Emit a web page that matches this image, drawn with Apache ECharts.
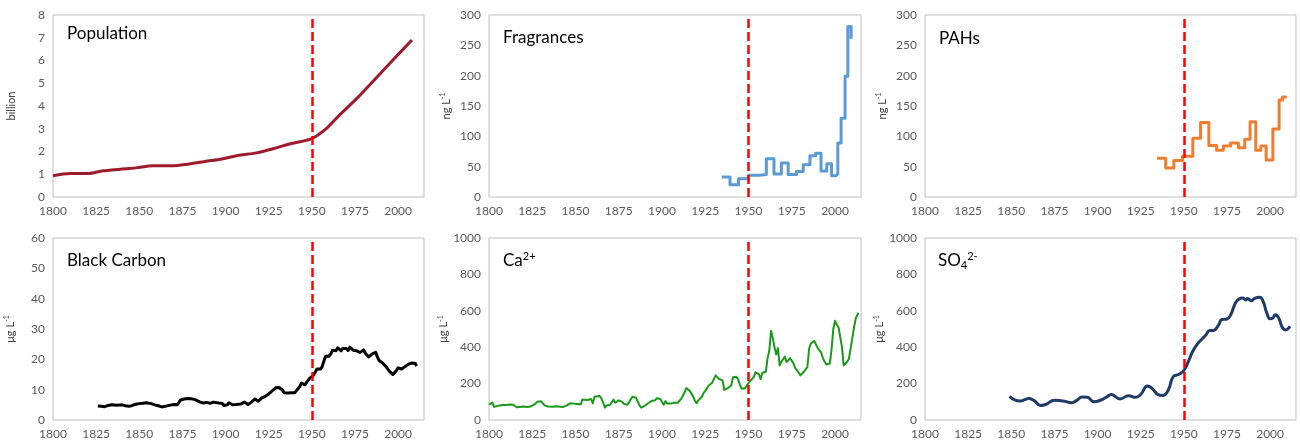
<!DOCTYPE html>
<html>
<head>
<meta charset="utf-8">
<script src="https://cdn.jsdelivr.net/npm/echarts@6/dist/echarts.min.js"></script>
<style>
  html, body { margin: 0; padding: 0; background: #fff; }
  #main { width: 1300px; height: 443px; }
</style>
</head>
<body>
<div id="main"></div>
<script>
// x axis (years) shared by all panels
var xTicks = [1800, 1825, 1850, 1875, 1900, 1925, 1950, 1975, 2000];
var markYear = 1950;

// Population (billion)
var popYears = [1800, 1810, 1820, 1829, 1839, 1848, 1858, 1869, 1878, 1888, 1898, 1907, 1918, 1928, 1938, 1950, 1958, 1966, 1977, 1987, 1997, 2008];
var popValues = [0.93, 1.03, 1.03, 1.15, 1.22, 1.28, 1.37, 1.37, 1.44, 1.56, 1.67, 1.82, 1.94, 2.13, 2.35, 2.57, 2.98, 3.6, 4.4, 5.21, 6.02, 6.9];

// Fragrances (ng L-1), step changes
var fragYears = [1934.5, 1939.3, 1944.2, 1950, 1956.4, 1960.3, 1964.7, 1969, 1972.9, 1977.7, 1981.6, 1985.5, 1988.8, 1991.9, 1995.2, 1998, 2000.4, 2001.6, 2003.5, 2005.8, 2007.4, 2008.3, 2009.3];
var fragValues = [33, 20, 30, 36, 37, 63, 38, 56, 37, 42, 53, 68, 72, 43, 55, 35, 38, 89, 130, 199, 281, 281, 261];

// PAHs (ng L-1), step changes
var pahYears = [1934.5, 1939.5, 1944.2, 1949.2, 1955.2, 1959.7, 1964.5, 1969, 1972.9, 1977.1, 1981.6, 1985.3, 1988.4, 1991.7, 1994.6, 1997.7, 2001.6, 2005.2, 2007.2, 2009.7];
var pahValues = [64, 48, 60, 67, 97, 123, 85, 77, 84, 89, 81, 95, 124, 77, 84, 61, 112, 160, 165, 165];

// Black carbon (ug L-1)
var bcYears = [1826, 1827, 1828, 1829, 1830, 1832, 1833, 1834, 1835, 1837, 1838, 1840, 1842, 1844, 1845, 1846, 1848, 1850, 1852, 1854, 1855, 1857, 1859, 1861, 1863, 1864, 1865, 1866, 1868, 1870, 1872, 1873, 1874, 1875, 1876, 1877, 1878, 1880, 1882, 1883, 1885, 1886, 1887, 1889, 1890, 1891, 1893, 1894, 1896, 1897, 1898, 1899, 1900, 1901, 1902, 1903, 1904, 1906, 1907, 1909, 1910, 1911, 1912, 1913, 1914, 1915, 1916, 1917, 1918, 1919, 1920, 1921, 1922, 1923, 1924, 1925, 1926, 1927, 1928, 1929, 1930, 1931, 1932, 1933, 1934, 1935, 1936, 1937, 1938, 1939, 1940, 1941, 1942, 1943, 1944, 1945, 1946, 1947, 1948, 1949, 1950, 1951, 1952, 1953, 1954, 1955, 1956, 1957, 1958, 1959, 1960, 1961, 1962, 1963, 1964, 1965, 1966, 1967, 1968, 1969, 1970, 1971, 1972, 1973, 1974, 1975, 1976, 1977, 1978, 1979, 1980, 1981, 1982, 1983, 1984, 1985, 1986, 1987, 1988, 1989, 1990, 1991, 1992, 1993, 1994, 1995, 1996, 1997, 1998, 1999, 2000, 2001, 2002, 2003, 2004, 2005, 2006, 2007, 2008, 2009, 2010, 2010.7];
var bcValues = [4.6, 4.8, 4.5, 4.7, 4.4, 4.8, 4.6, 5.0, 4.7, 4.9, 4.6, 5.0, 4.7, 4.5, 4.4, 4.8, 5.2, 5.4, 5.5, 5.7, 5.5, 5.4, 5.0, 4.7, 4.3, 4.1, 4.5, 5.0, 4.9, 5.1, 5.0, 5.3, 6.6, 6.5, 6.9, 6.6, 7.1, 7.0, 6.8, 6.2, 6.0, 6.3, 5.6, 5.8, 6.1, 5.5, 5.9, 5.4, 5.6, 5.2, 5.5, 4.8, 4.6, 5.0, 5.7, 5.5, 5.0, 5.1, 4.9, 5.3, 5.6, 5.9, 5.4, 5.1, 4.9, 5.9, 6.4, 6.9, 6.6, 6.2, 6.8, 7.3, 7.6, 7.8, 8.1, 8.6, 9.2, 9.6, 10.1, 10.6, 10.8, 10.7, 10.4, 9.8, 9.0, 8.6, 8.9, 8.7, 9.0, 8.7, 9.0, 9.6, 10.3, 11.0, 12.2, 12.0, 11.6, 12.0, 13.2, 13.9, 14.2, 14.8, 15.3, 16.8, 17.0, 16.8, 17.6, 19.5, 21.0, 21.2, 21.0, 21.8, 23.0, 23.3, 22.8, 23.8, 23.4, 22.8, 23.6, 24.2, 23.6, 22.9, 24.0, 23.5, 23.0, 23.1, 22.8, 22.6, 22.3, 22.9, 23.1, 22.0, 21.4, 20.8, 20.7, 21.8, 22.2, 22.3, 20.8, 19.6, 19.0, 18.8, 18.5, 17.6, 17.3, 16.0, 15.4, 15.0, 15.6, 16.3, 17.2, 17.0, 16.8, 17.2, 17.6, 17.9, 18.4, 18.7, 18.8, 18.5, 18.6, 17.8];

// Ca2+ (ug L-1)
var caYears = [1800, 1801, 1802, 1803, 1804, 1806, 1808, 1810, 1812, 1814, 1815, 1816, 1818, 1820, 1821, 1822, 1823, 1824, 1826, 1828, 1829, 1830, 1831, 1832, 1834, 1835, 1837, 1839, 1841, 1843, 1845, 1847, 1848, 1849, 1851, 1853, 1854, 1855, 1857, 1858, 1859, 1860, 1861, 1862, 1864, 1865, 1866, 1867, 1868, 1870, 1871, 1872, 1873, 1874, 1875, 1876, 1877, 1878, 1879, 1880, 1881, 1882, 1883, 1884, 1885, 1886, 1887, 1888, 1889, 1890, 1892, 1894, 1895, 1896, 1897, 1898, 1899, 1900, 1901, 1902, 1903, 1904, 1905, 1906, 1907, 1908, 1909, 1910, 1911, 1912, 1913, 1914, 1915, 1916, 1917, 1918, 1919, 1920, 1921, 1922, 1923, 1924, 1925, 1926, 1927, 1928, 1929, 1930, 1931, 1932, 1933, 1934, 1935, 1936, 1937, 1938, 1939, 1940, 1941, 1942, 1943, 1944, 1945, 1946, 1947, 1948, 1949, 1950, 1951, 1952, 1953, 1954, 1955, 1956, 1957, 1958, 1959, 1960, 1961, 1962, 1963, 1964, 1965, 1966, 1967, 1968, 1969, 1970, 1971, 1972, 1973, 1974, 1975, 1976, 1977, 1978, 1979, 1980, 1981, 1982, 1983, 1984, 1985, 1986, 1987, 1988, 1989, 1990, 1991, 1992, 1993, 1994, 1995, 1996, 1997, 1998, 1999, 2000, 2001, 2002, 2003, 2004, 2005, 2006, 2007, 2008, 2009, 2010, 2011, 2012, 2013.5];
var caValues = [85, 92, 96, 72, 74, 80, 83, 82, 85, 84, 80, 70, 72, 74, 78, 72, 78, 74, 84, 100, 105, 103, 98, 82, 74, 70, 73, 76, 73, 72, 80, 92, 96, 90, 88, 86, 112, 108, 110, 105, 115, 92, 128, 135, 132, 118, 95, 68, 80, 84, 86, 112, 95, 100, 108, 110, 100, 88, 95, 84, 98, 115, 128, 138, 122, 100, 80, 68, 70, 78, 92, 105, 112, 108, 120, 110, 115, 112, 84, 104, 90, 82, 90, 96, 95, 88, 95, 104, 115, 132, 150, 175, 172, 160, 158, 130, 105, 92, 108, 100, 128, 148, 160, 175, 190, 200, 205, 210, 245, 235, 225, 228, 218, 165, 172, 175, 178, 190, 235, 230, 238, 222, 195, 172, 165, 175, 190, 180, 215, 225, 235, 262, 265, 252, 225, 260, 268, 265, 340, 380, 490, 450, 400, 360, 395, 300, 320, 330, 348, 318, 325, 340, 338, 310, 285, 290, 260, 245, 240, 265, 262, 290, 390, 420, 425, 435, 425, 395, 385, 370, 340, 320, 305, 300, 310, 390, 500, 545, 525, 510, 515, 400, 300, 290, 320, 335, 345, 450, 510, 560, 590];

// SO4 2- (ug L-1)
var so4Years = [1849, 1852, 1855, 1858, 1860, 1863, 1867, 1870, 1875, 1880, 1885, 1888, 1891, 1894, 1898, 1902, 1905, 1908, 1913, 1918, 1922, 1925, 1929, 1932, 1935, 1938, 1941, 1944, 1947, 1950, 1953, 1955, 1958, 1960, 1963, 1965, 1967, 1970, 1972, 1975, 1977, 1980, 1982, 1984, 1986, 1987, 1989, 1991, 1994, 1996, 1998, 2000, 2001.5, 2003, 2005, 2007, 2009, 2011.5];
var so4Values = [130, 110, 104, 112, 118, 108, 80, 85, 108, 105, 95, 108, 126, 125, 100, 110, 125, 140, 116, 133, 125, 140, 187, 170, 140, 135, 165, 240, 250, 272, 330, 375, 420, 440, 470, 492, 492, 520, 552, 555, 575, 645, 665, 670, 660, 668, 655, 668, 675, 650, 590, 557, 560, 578, 560, 510, 495, 515];

var titles = ['{n|Population}', '{n|Fragrances}', '{n|PAHs}', '{n|Black Carbon}', '{n|Ca}{p|2+}', '{n|SO}{b|4}{p|2-}'];
var yNames = ['billion', '{a|ng L}{s|-1}', '{a|ng L}{s|-1}', '{a|\u03bcg L}{s|-1}', '{a|\u03bcg L}{s|-1}', '{a|\u03bcg L}{s|-1}'];
var yMax = [8, 300, 300, 60, 1000, 1000];
var yStep = [1, 50, 50, 10, 200, 200];

function zip(xs, ys) {
  return xs.map(function (x, i) { return [x, ys[i]]; });
}

var font = 'Lato, "Open Sans", sans-serif';
var grids = [
  { left: 53, top: 15, width: 371, height: 182 },
  { left: 489, top: 15, width: 372, height: 182 },
  { left: 925, top: 15, width: 371, height: 182 },
  { left: 53, top: 238, width: 371, height: 182 },
  { left: 489, top: 238, width: 372, height: 182 },
  { left: 925, top: 238, width: 371, height: 182 }
];
var titlePos = [[67, 24], [503, 28], [939, 29], [67, 251], [503, 251], [938, 251]];

var seriesData = [
  zip(popYears, popValues),
  zip(fragYears, fragValues),
  zip(pahYears, pahValues),
  zip(bcYears, bcValues),
  zip(caYears, caValues),
  zip(so4Years, so4Values)
];
var colors = ['#9E1B2E', '#5B9BD5', '#ED7D31', '#000000', '#1A9A1A', '#1F3A68'];
var widths = [3, 3, 3, 3, 2, 3];
var steps = [false, 'end', 'end', false, false, false];
var smooths = [0.3, false, false, false, false, 0.5];

var plain = function (v) { return String(v); };

var option = {
  animation: false,
  title: [],
  grid: [],
  xAxis: [],
  yAxis: [],
  series: []
};

for (var i = 0; i < 6; i++) {
  option.grid.push(Object.assign({
    show: true,
    borderColor: '#BFBFBF',
    borderWidth: 1,
    backgroundColor: 'transparent'
  }, grids[i]));

  option.title.push({
    text: titles[i],
    left: titlePos[i][0],
    top: titlePos[i][1],
    padding: 0,
    textStyle: {
      fontWeight: 'normal',
      rich: {
        n: { fontSize: 17, fontFamily: font, fontWeight: 'normal', color: '#000', lineHeight: 20 },
        p: { fontSize: 11, fontFamily: font, fontWeight: 'normal', color: '#000', lineHeight: 10, verticalAlign: 'top' },
        b: { fontSize: 11, fontFamily: font, fontWeight: 'normal', color: '#000', lineHeight: 10, verticalAlign: 'bottom' }
      }
    }
  });

  option.xAxis.push({
    type: 'value',
    gridIndex: i,
    min: xTicks[0],
    max: 2015,
    interval: xTicks[1] - xTicks[0],
    axisLine: { show: false },
    axisTick: { show: false },
    splitLine: { show: false },
    axisLabel: {
      showMaxLabel: false,
      margin: 8,
      color: '#595959',
      fontSize: 12,
      fontFamily: font,
      formatter: plain
    }
  });

  option.yAxis.push({
    type: 'value',
    gridIndex: i,
    min: 0,
    max: yMax[i],
    interval: yStep[i],
    name: yNames[i],
    nameLocation: 'middle',
    nameRotate: 90,
    nameGap: 36,
    nameTextStyle: {
      color: '#404040',
      fontSize: 11,
      fontFamily: font,
      rich: {
        a: { fontSize: 11, fontFamily: font, color: '#404040', lineHeight: 14 },
        s: { fontSize: 7, fontFamily: font, color: '#404040', lineHeight: 8, verticalAlign: 'top' }
      }
    },
    axisLine: { show: false },
    axisTick: { show: false },
    splitLine: { show: false },
    axisLabel: {
      margin: 8,
      color: '#595959',
      fontSize: 12,
      fontFamily: font,
      formatter: plain
    }
  });

  option.series.push({
    type: 'line',
    xAxisIndex: i,
    yAxisIndex: i,
    data: seriesData[i],
    step: steps[i],
    smooth: smooths[i],
    showSymbol: false,
    symbol: 'none',
    silent: true,
    lineStyle: { color: colors[i], width: widths[i], join: 'round' },
    markLine: {
      silent: true,
      symbol: ['none', 'none'],
      label: { show: false },
      lineStyle: { color: '#FF0000', type: [9, 4], width: 2.5 },
      data: [{ xAxis: markYear }]
    }
  });
}

var myChart = echarts.init(document.getElementById('main'));
myChart.setOption(option);
window.addEventListener('resize', function () {
  myChart.resize();
});
</script>
</body>
</html>
